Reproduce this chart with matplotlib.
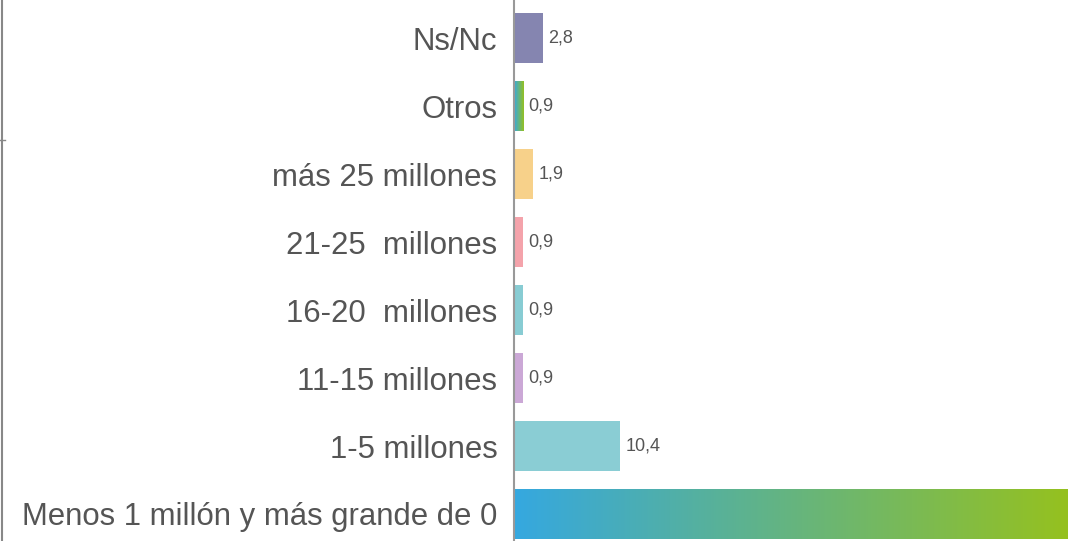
import numpy as np
import matplotlib.pyplot as plt
from matplotlib.colors import LinearSegmentedColormap
from matplotlib.lines import Line2D

categorias = ["Menos 1 millón y más grande de 0", "1-5 millones", "11-15 millones",
              "16-20  millones", "21-25  millones", "más 25 millones", "Otros", "Ns/Nc"]
valores = [81.3, 10.4, 0.9, 0.9, 0.9, 1.9, 0.9, 2.8]
etiquetas = ["81,3", "10,4", "0,9", "0,9", "0,9", "1,9", "0,9", "2,8"]
colores = ["grad", "#8acdd4", "#cba8d6", "#88ccd3", "#f4a3ab", "#f7d18a", "grad", "#8585b0"]

plt.rcParams['font.family'] = ['Liberation Sans', 'DejaVu Sans']

fig = plt.figure(figsize=(10.68, 5.41), dpi=100)
ax = fig.add_axes([514 / 1068, 0, 1 - 514 / 1068, 1])

xmax = (1068 - 514) / 10.2
ax.set_xlim(0, xmax)
ax.set_ylim(-(541 - 514) / 68, 7 + 38 / 68)

y = np.arange(len(categorias))
bars = ax.barh(y, valores, height=0.735, color=[c if c != "grad" else "none" for c in colores])

cmap = LinearSegmentedColormap.from_list("g", ["#35a8e0", "#95c11f"])
grad = np.linspace(0, 1, 256).reshape(1, -1)
for bar, c in zip(bars, colores):
    if c == "grad":
        x0 = bar.get_x()
        x1 = min(x0 + bar.get_width(), xmax)
        y0 = bar.get_y()
        y1 = y0 + bar.get_height()
        im = ax.imshow(grad, cmap=cmap, aspect="auto", extent=(x0, x1, y0, y1),
                       interpolation="bicubic", zorder=2)
        im.set_clip_path(bar)

for bar, lab in zip(bars, etiquetas):
    w = bar.get_width()
    if w < xmax:
        ax.annotate(lab, (w, bar.get_y() + bar.get_height() / 2), xytext=(4, 0),
                    textcoords="offset points", va="center", ha="left",
                    fontsize=13, color="#555555")

ax.set_yticks(y)
ax.set_yticklabels(categorias, fontsize=22.4, color="#555555")
ax.tick_params(axis="y", length=0, pad=12)
ax.set_xticks([])
for s in ["top", "right", "bottom"]:
    ax.spines[s].set_visible(False)
ax.spines["left"].set_color("#999999")
ax.spines["left"].set_linewidth(1.5)

fig.add_artist(Line2D([1.5 / 1068, 1.5 / 1068], [0, 1], color="#888888", lw=1.5))
fig.add_artist(Line2D([0, 5 / 1068], [1 - 140 / 541, 1 - 140 / 541], color="#888888", lw=1))

fig.savefig("out.png", dpi=100)
